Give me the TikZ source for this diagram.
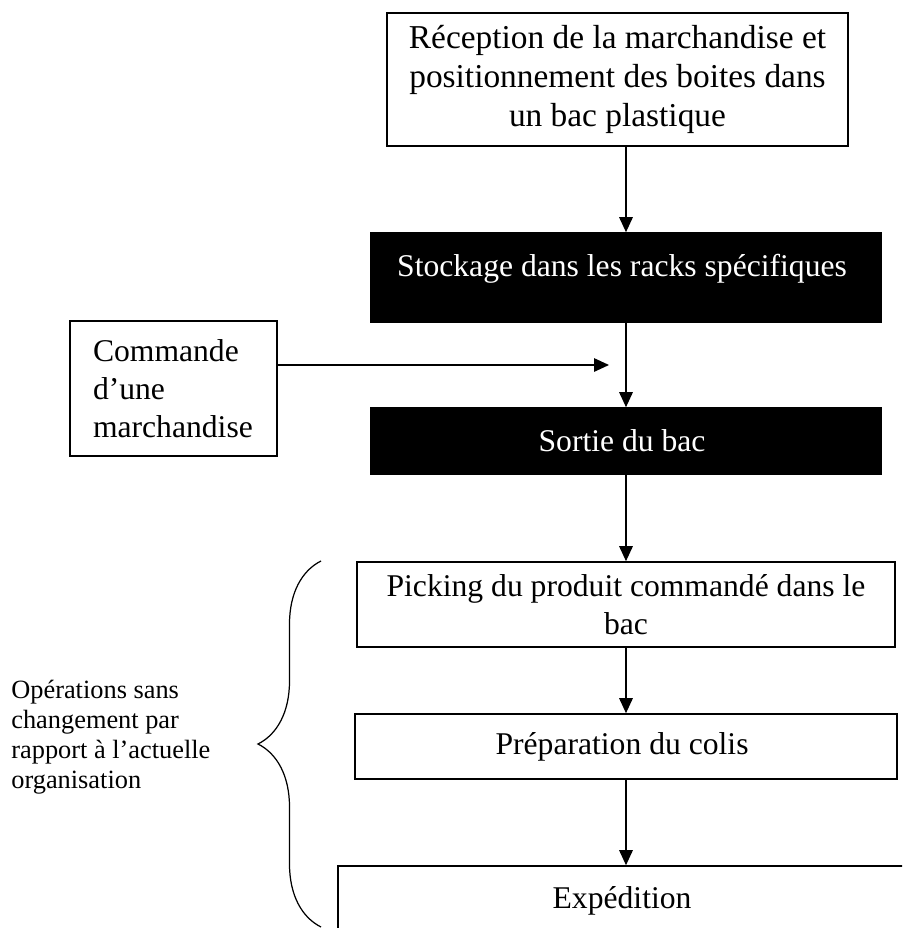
\documentclass[tikz,border=0pt]{standalone}
\usepackage{fontspec}
\setmainfont{Liberation Serif}
\usepackage{tikz}
\usetikzlibrary{arrows.meta,decorations.pathreplacing}

\begin{document}
\begin{tikzpicture}[
    procbox/.style={draw, line width=0.9pt, align=center, inner sep=0pt,
        font=\fontsize{18}{21.6}\selectfont},
    darkbox/.style={procbox, fill=black, text=white},
    flow/.style={-{Triangle[width=0.27cm,length=0.3cm]}, line width=0.8pt}
]
    \clip (0,0) rectangle (18.04,-18.56);

    % Reception
    \node[procbox, minimum width=9.22cm, minimum height=2.66cm,
        font=\fontsize{19}{22.4}\selectfont] (recep) at (12.35,-1.59) {
        Réception de la marchandise et \\
        positionnement des boites dans \\
        un bac plastique
    };

    % Stockage
    \node[darkbox, minimum width=10.22cm, minimum height=1.78cm, text depth=0.5cm] (stock) at (12.52,-5.55) {
        Stockage dans les racks spécifiques
    };

    % Commande
    \node[procbox, align=left, text width=3.22cm, inner xsep=0.46cm,
        minimum height=2.7cm] (cmd) at (3.47,-7.77) {
        Commande \\
        d’une \\
        marchandise
    };

    % Sortie
    \node[darkbox, minimum width=10.22cm, minimum height=1.32cm] (sortie) at (12.52,-8.82) {
        Sortie du bac
    };

    % Picking
    \node[procbox, minimum width=10.76cm, minimum height=1.7cm] (pick) at (12.52,-12.09) {
        Picking du produit commandé dans le \\
        bac
    };

    % Preparation
    \node[procbox, minimum width=10.84cm, minimum height=1.3cm] (prep) at (12.52,-14.93) {
        Préparation du colis
    };

    % Expedition
    \node[procbox, minimum width=11.52cm, minimum height=1.4cm] (exped) at (12.52,-18.02) {
        Expédition
    };

    % Arrows
    \coordinate (cmdTip) at (12.18,-7.30);
    \draw[flow] (recep.south -| stock.north) -- (stock.north);
    \draw[flow] (stock) -- (sortie);
    \draw[flow] (cmd.east |- cmdTip) -- (cmdTip);
    \draw[flow] (sortie) -- (pick);
    \draw[flow] (pick) -- (prep);
    \draw[flow] (prep) -- (exped);

    % Brace
    \coordinate (braceBot) at (6.42,-18.54);
    \coordinate (braceTop) at (6.42,-11.22);
    \draw[line width=0.7pt, decorate, decoration={brace, amplitude=1.26cm}]
        (braceBot) -- (braceTop);
    \node[anchor=west, align=left, inner sep=0pt,
        font=\fontsize{15}{17}\selectfont] (ops) at (0.22,-14.74) {
        Opérations sans \\
        changement par \\
        rapport à l’actuelle \\
        organisation
    };
\end{tikzpicture}
\end{document}
